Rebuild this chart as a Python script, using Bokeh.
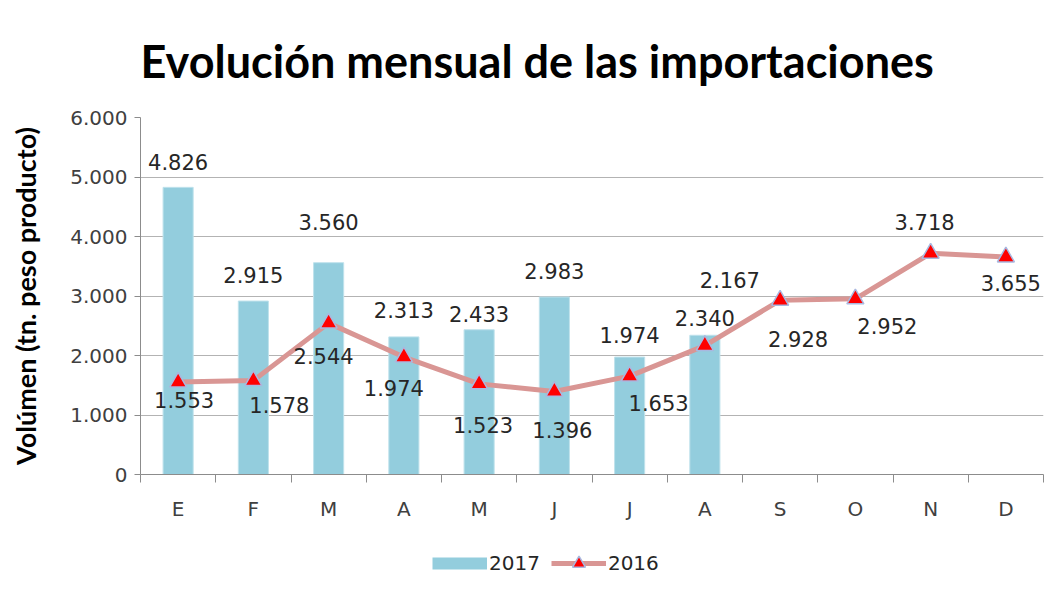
from bokeh.plotting import figure
from bokeh.layouts import column
from bokeh.models import (ColumnDataSource, LabelSet, Legend, LegendItem,
                          FixedTicker, Range1d)
from bokeh.core.properties import value
from bokeh.embed import file_html
from bokeh.resources import INLINE

# ---- data ----
months = ["E", "F", "M", "A", "M", "J", "J", "A", "S", "O", "N", "D"]
values_2017 = [4826, 2915, 3560, 2313, 2433, 2983, 1974, 2340]
values_2016 = [1553, 1578, 2544, 1974, 1523, 1396, 1653, 2167, 2928, 2952, 3718, 3655]
y_ticks = [0, 1000, 2000, 3000, 4000, 5000, 6000]
y_tick_labels = ["0", "1.000", "2.000", "3.000", "4.000", "5.000", "6.000"]
series_names = ["2017", "2016"]

# label nudges (screen px, +y = up), as placed in the original
bar_label_dx = [0, 0, 0, 0, 0, 0, 0, 0]
bar_label_dy = [25, 26, 41, 27, 16, 26, 22, 17]
line_label_dx = [6, 26, -5, -10, 4, 8, 29, 25, 18, 32, -6, 5]
line_label_dy = [-18, -24, -33, -31, -41, -39, -27, 66, -39, -27, 31, -26]

BAR_FILL, BAR_LINE = "#93CDDD", "#BFE2EC"
LINE_COL, MK_FILL, MK_LINE = "#D99694", "#FF0000", "#A9B8E0"


def fmt(v):
    return f"{v:,}".replace(",", ".")


x17 = list(range(len(values_2017)))
x16 = list(range(len(values_2016)))

src17 = ColumnDataSource(dict(x=x17, y=values_2017,
                              lbl=[fmt(v) for v in values_2017],
                              dx=bar_label_dx, dy=bar_label_dy))
src16 = ColumnDataSource(dict(x=x16, y=values_2016,
                              lbl=[fmt(v) for v in values_2016],
                              dx=line_label_dx, dy=line_label_dy))

p = figure(width=1048, height=530, output_backend="svg", toolbar_location=None,
           x_range=Range1d(-0.5, len(months) - 0.5), y_range=Range1d(0, 6000),
           min_border_left=140, min_border_right=5, min_border_top=117,
           min_border_bottom=56)
p.outline_line_color = None
p.background_fill_color = "white"
p.border_fill_color = "white"

# title
p.title.text = "Evolución mensual de las importaciones"
p.title.text_font = "Lato"
p.title.text_font_style = "bold"
p.title.text_font_size = "45px"
p.title.text_color = "#000000"
p.title.align = "left"
p.title.offset = 0
p.title.standoff = 60

# grid
p.xgrid.grid_line_color = None
p.ygrid.grid_line_color = "#b3b3b3"
p.ygrid.grid_line_width = 1.2
p.ygrid.ticker = FixedTicker(ticks=y_ticks)

# y axis
p.yaxis.ticker = FixedTicker(ticks=y_ticks)
p.yaxis.major_label_overrides = {t: l for t, l in zip(y_ticks, y_tick_labels)}
p.yaxis.axis_line_color = "#8c8c8c"
p.yaxis.major_tick_line_color = "#8c8c8c"
p.yaxis.major_tick_out = 6
p.yaxis.major_tick_in = 0
p.yaxis.minor_tick_line_color = None
p.yaxis.major_label_text_font = "DejaVu Sans"
p.yaxis.major_label_text_font_size = "20px"
p.yaxis.major_label_text_color = "#404040"
p.yaxis.major_label_standoff = 7
p.yaxis.axis_label = "Volúmen (tn. peso producto)"
p.yaxis.axis_label_text_font = "Lato"
p.yaxis.axis_label_text_font_style = "bold"
p.yaxis.axis_label_text_font_size = "27px"
p.yaxis.axis_label_text_color = "#000000"
p.yaxis.axis_label_standoff = 25

# x axis
p.xaxis.ticker = FixedTicker(ticks=x16,
                             minor_ticks=[i - 0.5 for i in range(len(months) + 1)])
p.xaxis.major_label_overrides = {i: m for i, m in enumerate(months)}
p.xaxis.axis_line_color = "#8c8c8c"
p.xaxis.major_tick_line_color = None
p.xaxis.minor_tick_line_color = "#8c8c8c"
p.xaxis.minor_tick_out = 8
p.xaxis.minor_tick_in = 0
p.xaxis.major_label_text_font = "DejaVu Sans"
p.xaxis.major_label_text_font_size = "20px"
p.xaxis.major_label_text_color = "#404040"
p.xaxis.major_label_standoff = 14

# bars 2017
bars = p.vbar(x="x", top="y", width=0.4, source=src17,
              fill_color=BAR_FILL, line_color=BAR_LINE, line_width=1)

# line 2016
line_r = p.line(x="x", y="y", source=src16, line_color=LINE_COL, line_width=5)
scat_r = p.scatter(x="x", y="y", source=src16, marker="triangle", size=17,
                   fill_color=MK_FILL, line_color=MK_LINE, line_width=1.5)

# labels
for src in (src17, src16):
    p.add_layout(LabelSet(x="x", y="y", text="lbl", source=src,
                          x_offset="dx", y_offset="dy",
                          text_align="center", text_baseline="middle",
                          text_font=value("DejaVu Sans"), text_font_size="21px",
                          text_color="#262626"))

# ---- legend strip below the chart (its own frame; series kept off-view) ----
p2 = figure(width=1048, height=54, output_backend="svg", toolbar_location=None,
            x_range=Range1d(-0.5, len(months) - 0.5),
            y_range=Range1d(100000, 200000),
            min_border_left=140, min_border_right=5, min_border_top=0,
            min_border_bottom=0)
p2.axis.visible = False
p2.grid.grid_line_color = None
p2.outline_line_color = None
p2.border_fill_color = "white"
lg_bar = p2.line(x="x", y="y", source=src17, line_color=BAR_FILL, line_width=12)
lg_line = p2.line(x="x", y="y", source=src16, line_color=LINE_COL, line_width=5)
lg_mk = p2.scatter(x="x", y="y", source=src16, marker="triangle", size=12,
                   fill_color=MK_FILL, line_color=MK_LINE, line_width=1.5)

legend = Legend(items=[LegendItem(label=series_names[0], renderers=[lg_bar]),
                       LegendItem(label=series_names[1], renderers=[lg_line, lg_mk])],
                orientation="horizontal", location=(292, 5),
                glyph_width=55, glyph_height=32,
                label_text_font="DejaVu Sans", label_text_font_size="20px",
                label_text_color="#262626",
                border_line_color=None, background_fill_alpha=0,
                spacing=11, label_standoff=2, padding=0, margin=0)
p2.add_layout(legend, "center")

layout = column(p, p2, spacing=0)
open("out.html", "w").write(file_html(layout, INLINE))
